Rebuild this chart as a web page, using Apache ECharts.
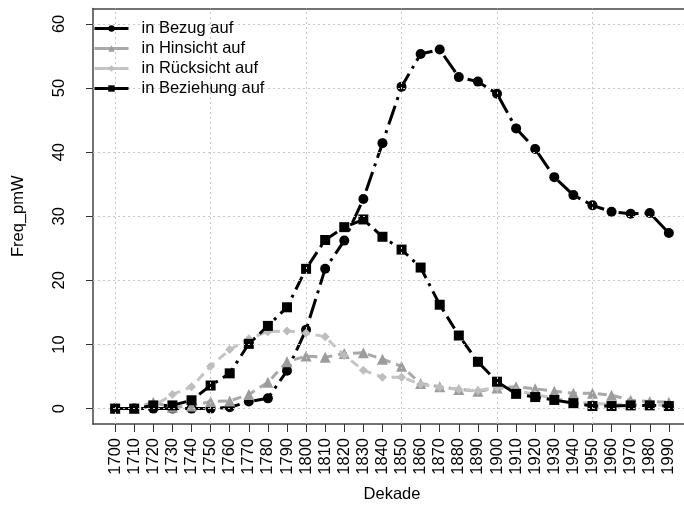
<!DOCTYPE html>
<html>
<head>
<meta charset="utf-8">
<script src="https://cdn.jsdelivr.net/npm/echarts@6/dist/echarts.min.js"></script>
<style>html,body{margin:0;padding:0;background:#fff;}#c{width:684px;height:511px;}</style>
</head>
<body>
<div id="c"></div>
<script>
var decades = [1700,1710,1720,1730,1740,1750,1760,1770,1780,1790,1800,1810,1820,1830,1840,1850,1860,1870,1880,1890,1900,1910,1920,1930,1940,1950,1960,1970,1980,1990];
var bezug = [0,0,0,0,0,0,0.2,1.1,1.6,5.9,12.3,21.8,26.2,32.7,41.4,50.2,55.3,56.0,51.7,51.0,49.1,43.7,40.5,36.1,33.3,31.7,30.7,30.4,30.5,27.4];
var hinsicht = [0,0,1.0,0.2,0.4,1.1,1.2,2.2,4.1,7.3,8.2,8.0,8.6,8.7,7.7,6.6,3.9,3.4,3.0,2.7,3.2,3.4,3.1,2.7,2.4,2.4,2.1,1.3,1.1,1.0];
var ruecksicht = [0,0,0.4,2.2,3.4,6.6,9.2,10.9,12.0,12.1,11.8,11.2,8.3,6.0,4.9,4.9,3.8,3.3,3.0,2.8,3.3,2.8,2.2,1.6,1.0,0.8,0.7,0.6,0.6,0.5];
var beziehung = [0,0,0.5,0.5,1.3,3.6,5.5,10.1,12.9,15.8,21.8,26.3,28.3,29.5,26.8,24.8,22.0,16.2,11.4,7.3,4.2,2.3,1.8,1.35,0.85,0.4,0.4,0.5,0.5,0.4];
var yTicks = [0,10,20,30,40,50,60];
var xGrid = [1700,1750,1800,1850,1900,1950];
var names = ['in Bezug auf','in Hinsicht auf','in R\u00fccksicht auf','in Beziehung auf'];
var lineColors = ['#000','#a8a8a8','#c4c4c4','#000'];

var FONT = "'Liberation Sans', Arial, Helvetica, sans-serif";
function pairs(arr){ return decades.map(function(d,i){ return [d, arr[i]]; }); }

var gridLines = [];
yTicks.forEach(function(v){ gridLines.push({yAxis: v}); });
xGrid.forEach(function(v){ gridLines.push({xAxis: v}); });

var BOX = {color: '#444', width: 1.5};

var chart = echarts.init(document.getElementById('c'), null, {renderer:'canvas'});
chart.setOption({
  animation: false,
  backgroundColor: '#fff',
  textStyle: {fontFamily: FONT},
  grid: {left: 93, top: 8.5, right: -7, bottom: 87, show: false, containLabel: false, outerBoundsMode: 'none'},
  legend: {
    orient: 'vertical', left: 93, top: 18.5, padding: 0, itemGap: 0, z: 20,
    itemWidth: 34, itemHeight: 8,
    data: names.map(function(n, i){ return {name: n, lineStyle: {type: 'solid', width: 3, color: lineColors[i]}}; }),
    textStyle: {fontSize: 16.5, color: '#000', fontFamily: FONT, lineHeight: 20, padding: [0,0,0,8]},
    lineStyle: {type: 'solid', width: 3},
    itemStyle: {borderWidth: 0, borderType: 'solid'}
  },
  xAxis: [{
    type: 'value', min: 1688.4, max: 2001.6,
    name: 'Dekade', nameLocation: 'middle', nameGap: 62,
    nameTextStyle: {fontSize: 16.5, color: '#000', fontFamily: FONT},
    axisLine: {show: true, onZero: false, lineStyle: BOX},
    splitLine: {show: false},
    axisTick: {show: true, length: 8, customValues: decades, lineStyle: {color: '#333', width: 1}},
    axisLabel: {rotate: 90, margin: 14, fontSize: 16.5, color: '#000', fontFamily: FONT, customValues: decades, formatter: function(v){ return String(v); }}
  }, {
    type: 'value', position: 'top', min: 1688.4, max: 2001.6,
    axisLine: {show: true, onZero: false, lineStyle: BOX},
    splitLine: {show: false}, axisTick: {show: false}, axisLabel: {show: false}
  }],
  yAxis: {
    type: 'value', min: -2.4, max: 62.4,
    name: 'Freq_pmW', nameLocation: 'middle', nameGap: 66, nameRotate: 90,
    nameTextStyle: {fontSize: 16.5, color: '#000', fontFamily: FONT},
    axisLine: {show: true, onZero: false, lineStyle: BOX},
    splitLine: {show: false},
    axisTick: {show: true, length: 7, customValues: yTicks, lineStyle: {color: '#333', width: 1}},
    axisLabel: {rotate: 90, margin: 25, fontSize: 16.5, color: '#000', fontFamily: FONT, customValues: yTicks, formatter: function(v){ return String(v); }}
  },
  series: [
    {type: 'line', name: '_grid', data: [], silent: true, z: 1,
     markLine: {silent: true, symbol: ['none','none'], label: {show: false}, animation: false,
       lineStyle: {color: '#c8c8c8', width: 1, type: [2,3]}, emphasis: {disabled: true}, data: gridLines}},
    {type: 'line', name: names[0], data: pairs(bezug), symbol: 'circle', symbolSize: 10, z: 3,
     itemStyle: {color: '#000', borderWidth: 0}, lineStyle: {color: lineColors[0], width: 3, type: [20,6,3,6]}},
    {type: 'line', name: names[1], data: pairs(hinsicht), symbol: 'triangle', symbolSize: 11, z: 3,
     itemStyle: {color: '#9c9c9c', borderWidth: 0}, lineStyle: {color: lineColors[1], width: 3, type: [9,6]}},
    {type: 'line', name: names[2], data: pairs(ruecksicht), symbol: 'diamond', symbolSize: 9, z: 3,
     itemStyle: {color: '#bdbdbd', borderWidth: 0}, lineStyle: {color: lineColors[2], width: 3, type: [9,6]}},
    {type: 'line', name: names[3], data: pairs(beziehung), symbol: 'rect', symbolSize: 10, z: 3,
     itemStyle: {color: '#000', borderWidth: 0}, lineStyle: {color: lineColors[3], width: 3, type: [14,6,3,6]}}
  ]
});
</script>
</body>
</html>
